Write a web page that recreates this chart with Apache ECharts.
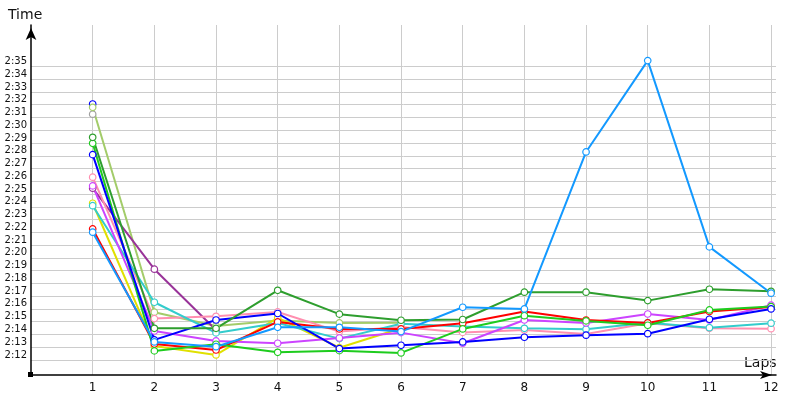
<!DOCTYPE html>
<html>
<head>
<meta charset="utf-8">
<script src="https://cdn.jsdelivr.net/npm/echarts@6/dist/echarts.min.js"></script>
<style>html,body{margin:0;padding:0;background:#fff}#c{width:800px;height:400px}</style>
</head>
<body>
<div id="c"></div>
<script>
// Laps and lap times in seconds (e.g. 142.3 = 2:22.3)
var laps = [1,2,3,4,5,6,7,8,9,10,11,12];
var yTicks = [132,133,134,135,136,137,138,139,140,141,142,143,144,145,146,147,148,149,150,151,152,153,154,155];

var red        = [142.27,133.25,132.78,134.98,134.43,134.43,134.88,135.79,135.13,134.90,135.79,136.15];
var blue       = [148.09,133.57,135.13,135.64,132.89,133.15,133.41,133.78,133.94,134.06,135.19,136.00];
var lightBlue  = [142.01,133.41,133.04,134.56,134.56,134.22,136.13,136.00,148.30,155.46,140.86,137.23];
var darkGreen  = [149.45,134.48,134.48,137.46,135.59,135.11,135.17,137.31,137.31,136.65,137.54,137.38];
var lime       = [148.98,132.71,133.23,132.60,132.73,132.55,134.43,135.47,135.06,134.72,135.92,136.18];
var yellow     = [144.28,133.10,132.39,135.29,132.96,134.48];
var cyan       = [144.09,136.52,134.12,134.90,133.67,134.84,134.63,134.48,134.41,134.92,134.53,134.88];
var pink       = [146.32,135.24,135.42,135.76,134.22,134.59,134.16,134.35,134.04,134.87,134.48,134.45];
var magenta    = [145.64,134.27,133.49,133.31,133.72,134.14,133.31,135.13,134.90,135.60,135.13,136.29];
var darkPurple = [145.46,139.11,134.35];
var olive      = [151.80,135.74,134.66,135.10,134.90,134.92];
var gray       = [151.26];
var navy       = [152.06];

function pairs(arr){ return arr.map(function(v,i){ return [laps[i], v]; }); }
function fmt(v){ var m = Math.floor(v/60), s = Math.round(v - m*60); return m + ':' + (s<10?'0':'') + s; }

var defs = [
  ['gray', gray, '#a0a0a0'],
  ['navy', navy, '#0000ff'],
  ['olive', olive, '#a3cc6a'],
  ['darkPurple', darkPurple, '#993399'],
  ['yellow', yellow, '#e0e000'],
  ['pink', pink, '#ff8fb0'],
  ['cyan', cyan, '#33cccc'],
  ['magenta', magenta, '#cc44ff'],
  ['red', red, '#ff0000'],
  ['lime', lime, '#1ecc1e'],
  ['blue', blue, '#0000ff'],
  ['darkGreen', darkGreen, '#2e9e2e'],
  ['lightBlue', lightBlue, '#1399ff']
];

var series = defs.map(function(d){
  return {
    name: d[0], type: 'line', data: pairs(d[1]),
    symbol: 'circle', symbolSize: 6.5, showSymbol: true,
    lineStyle: {color: d[2], width: 2},
    itemStyle: {color: '#ffffff', borderColor: d[2], borderWidth: 1.2},
    emphasis: {disabled: true}
  };
});

var chart = echarts.init(document.getElementById('c'), null, {renderer: 'canvas'});
chart.setOption({
  animation: false,
  backgroundColor: '#ffffff',
  grid: {left: 31, right: 24, top: 25, bottom: 25, containLabel: false},
  xAxis: {
    type: 'value', min: 0, max: 12.08,
    axisLine: {show: true, lineStyle: {color: '#000', width: 1.5}, symbol: ['none','arrow'], symbolSize: [6, 12], symbolOffset: [0, -4]},
    axisTick: {show: false, customValues: laps},
    axisLabel: {customValues: laps, color: '#111', fontFamily: 'DejaVu Sans', fontSize: 12, margin: 7},
    splitLine: {show: true, lineStyle: {color: '#cccccc', width: 1}}
  },
  yAxis: {
    type: 'value', min: 130.82, max: 158.25,
    axisLine: {show: true, lineStyle: {color: '#000', width: 1.5}, symbol: ['none','arrow'], symbolSize: [8, 12], symbolOffset: [0, -3]},
    axisTick: {show: false, customValues: yTicks},
    axisLabel: {customValues: yTicks, formatter: fmt, color: '#111', fontFamily: 'DejaVu Sans', fontSize: 10, margin: 4, verticalAlign: 'bottom'},
    splitLine: {show: true, lineStyle: {color: '#cccccc', width: 1}}
  },
  graphic: [
    {type: 'text', left: 8, top: 8, style: {text: 'Time', fill: '#111', font: '14px "DejaVu Sans"'}},
    {type: 'text', left: 744, top: 356, style: {text: 'Laps', fill: '#111', font: '14px "DejaVu Sans"'}},
    {type: 'rect', left: 28, top: 372, shape: {width: 5, height: 5}, style: {fill: '#000'}}
  ],
  series: series
});
</script>
</body>
</html>
